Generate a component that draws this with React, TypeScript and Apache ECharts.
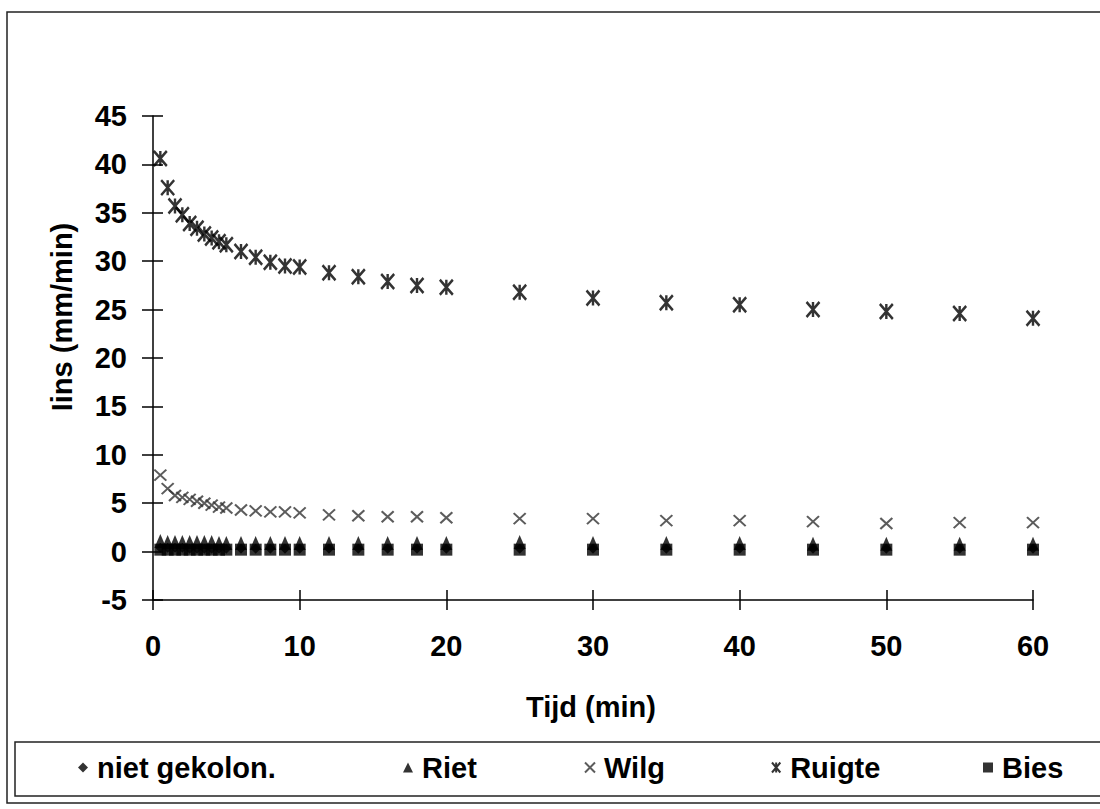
import React, { useEffect, useRef } from "react";
import * as echarts from "echarts";

// Time (min)
const times = [0.5, 1, 1.5, 2, 2.5, 3, 3.5, 4, 4.5, 5, 6, 7, 8, 9, 10, 12, 14, 16, 18, 20, 25, 30, 35, 40, 45, 50, 55, 60];

// Infiltration (mm/min) per vegetation type
const nietGekolon = [0.4, 0.4, 0.4, 0.4, 0.3, 0.3, 0.3, 0.3, 0.3, 0.3, 0.3, 0.3, 0.3, 0.3, 0.3, 0.3, 0.3, 0.3, 0.3, 0.3, 0.3, 0.3, 0.3, 0.3, 0.3, 0.3, 0.3, 0.3];
const riet = [1.1, 1.0, 1.0, 1.0, 1.0, 1.0, 1.0, 1.0, 0.9, 0.9, 0.9, 0.9, 0.9, 0.9, 0.9, 0.9, 0.9, 0.9, 0.9, 0.9, 1.0, 0.9, 0.9, 0.9, 0.8, 0.8, 0.8, 0.8];
const wilg = [7.9, 6.5, 5.8, 5.6, 5.4, 5.2, 5.0, 4.8, 4.6, 4.5, 4.3, 4.2, 4.1, 4.1, 4.0, 3.8, 3.7, 3.6, 3.6, 3.5, 3.4, 3.4, 3.2, 3.2, 3.1, 2.9, 3.0, 3.0];
const ruigte = [40.6, 37.6, 35.7, 34.8, 33.9, 33.4, 32.8, 32.4, 32.0, 31.7, 31.0, 30.4, 29.9, 29.5, 29.4, 28.8, 28.4, 27.9, 27.5, 27.3, 26.8, 26.2, 25.7, 25.5, 25.0, 24.8, 24.6, 24.1];
const bies = [0.2, 0.2, 0.2, 0.2, 0.2, 0.2, 0.2, 0.2, 0.2, 0.2, 0.2, 0.2, 0.2, 0.2, 0.2, 0.2, 0.2, 0.2, 0.2, 0.2, 0.2, 0.2, 0.2, 0.2, 0.2, 0.2, 0.2, 0.2];

const seriesNames = ["niet gekolon.", "Riet", "Wilg", "Ruigte", "Bies"];
const xTitle = "Tijd (min)";
const yTitle = "Iins (mm/min)";

const FONT = "'Liberation Sans', Arial, Helvetica, sans-serif";

const pair = (ys: number[]) => times.map((t, i) => [t, ys[i]]);

export default function App() {
  const ref = useRef<HTMLDivElement>(null);

  useEffect(() => {
    if (!ref.current) return;
    const chart = echarts.init(ref.current, null, { renderer: "svg" });

    const labelStyle = { fontFamily: FONT, fontWeight: "bold" as const, fontSize: 29, color: "#000" };
    const lineStyle = { color: "#000", width: 1.5 };

    const legendTextStarts = [97, 422, 603, 790, 1002];
    const legends = seriesNames.map((name, i) => ({
      data: [name],
      left: legendTextStarts[i] - 19,
      top: 753,
      padding: 0,
      itemWidth: 10,
      itemHeight: 10,
      selectedMode: false,
      textStyle: { ...labelStyle, padding: [0, 0, 0, 4] },
    }));

    const baseX = { type: "value", min: 0, max: 60, interval: 10, gridIndex: 0, position: "bottom" };
    const baseY = { type: "value", min: -5, max: 45, interval: 5, gridIndex: 0, position: "left" };

    chart.setOption({
      animation: false,
      backgroundColor: "#fff",
      grid: { left: 153, right: 67, top: 116, bottom: 209, containLabel: false },
      xAxis: [
        {
          ...baseX,
          axisLine: { show: true, onZero: false, lineStyle },
          axisTick: { show: true, inside: false, length: 10, lineStyle },
          axisLabel: { ...labelStyle, margin: 31 },
          splitLine: { show: false },
        },
        {
          ...baseX,
          axisLine: { show: false, onZero: false },
          axisTick: { show: true, inside: true, length: 10, lineStyle },
          axisLabel: { show: false },
          splitLine: { show: false },
        },
      ],
      yAxis: [
        {
          ...baseY,
          axisLine: { show: true, onZero: false, lineStyle },
          axisTick: { show: true, inside: false, length: 11, lineStyle },
          axisLabel: { ...labelStyle, margin: 26 },
          splitLine: { show: false },
        },
        {
          ...baseY,
          axisLine: { show: false, onZero: false },
          axisTick: { show: true, inside: true, length: 10, lineStyle },
          axisLabel: { show: false },
          splitLine: { show: false },
        },
      ],
      legend: legends,
      series: [
        {
          name: seriesNames[0],
          type: "scatter",
          data: pair(nietGekolon),
          symbol: "diamond",
          symbolSize: 10,
          itemStyle: { color: "#000" },
        },
        {
          name: seriesNames[1],
          type: "scatter",
          data: pair(riet),
          symbol: "triangle",
          symbolSize: [12, 14],
          itemStyle: { color: "#000" },
        },
        {
          name: seriesNames[2],
          type: "scatter",
          data: pair(wilg),
          symbol: "path://M0,0L10,10M10,0L0,10",
          symbolSize: [12, 11],
          itemStyle: { color: "transparent", borderColor: "#333", borderWidth: 2 },
        },
        {
          name: seriesNames[3],
          type: "scatter",
          data: pair(ruigte),
          symbol: "path://M0,0L10,12M10,0L0,12M5,0L5,12",
          symbolSize: [13, 15],
          itemStyle: { color: "transparent", borderColor: "#000", borderWidth: 2.6 },
        },
        {
          name: seriesNames[4],
          type: "scatter",
          data: pair(bies),
          symbol: "rect",
          symbolSize: [12, 12],
          itemStyle: { color: "#000" },
        },
      ],
      graphic: [
        {
          type: "rect",
          shape: { x: 7, y: 12, width: 1110, height: 791 },
          style: { fill: "none", stroke: "#222", lineWidth: 1.5 },
          silent: true,
        },
        {
          type: "rect",
          shape: { x: 15, y: 742, width: 1110, height: 54 },
          style: { fill: "none", stroke: "#222", lineWidth: 1.5 },
          silent: true,
        },
        {
          type: "text",
          x: 591,
          y: 707,
          style: { text: xTitle, font: `bold 29px ${FONT}`, fill: "#000", align: "center", verticalAlign: "middle" },
        },
        {
          type: "text",
          x: 62,
          y: 317,
          rotation: Math.PI / 2,
          style: { text: yTitle, font: `bold 29px ${FONT}`, fill: "#000", align: "center", verticalAlign: "middle" },
        },
      ],
    });

    return () => chart.dispose();
  }, []);

  return (
    <div
      ref={ref}
      style={{ position: "fixed", left: 0, top: 0, width: 1100, height: 809, background: "#fff" }}
    />
  );
}
